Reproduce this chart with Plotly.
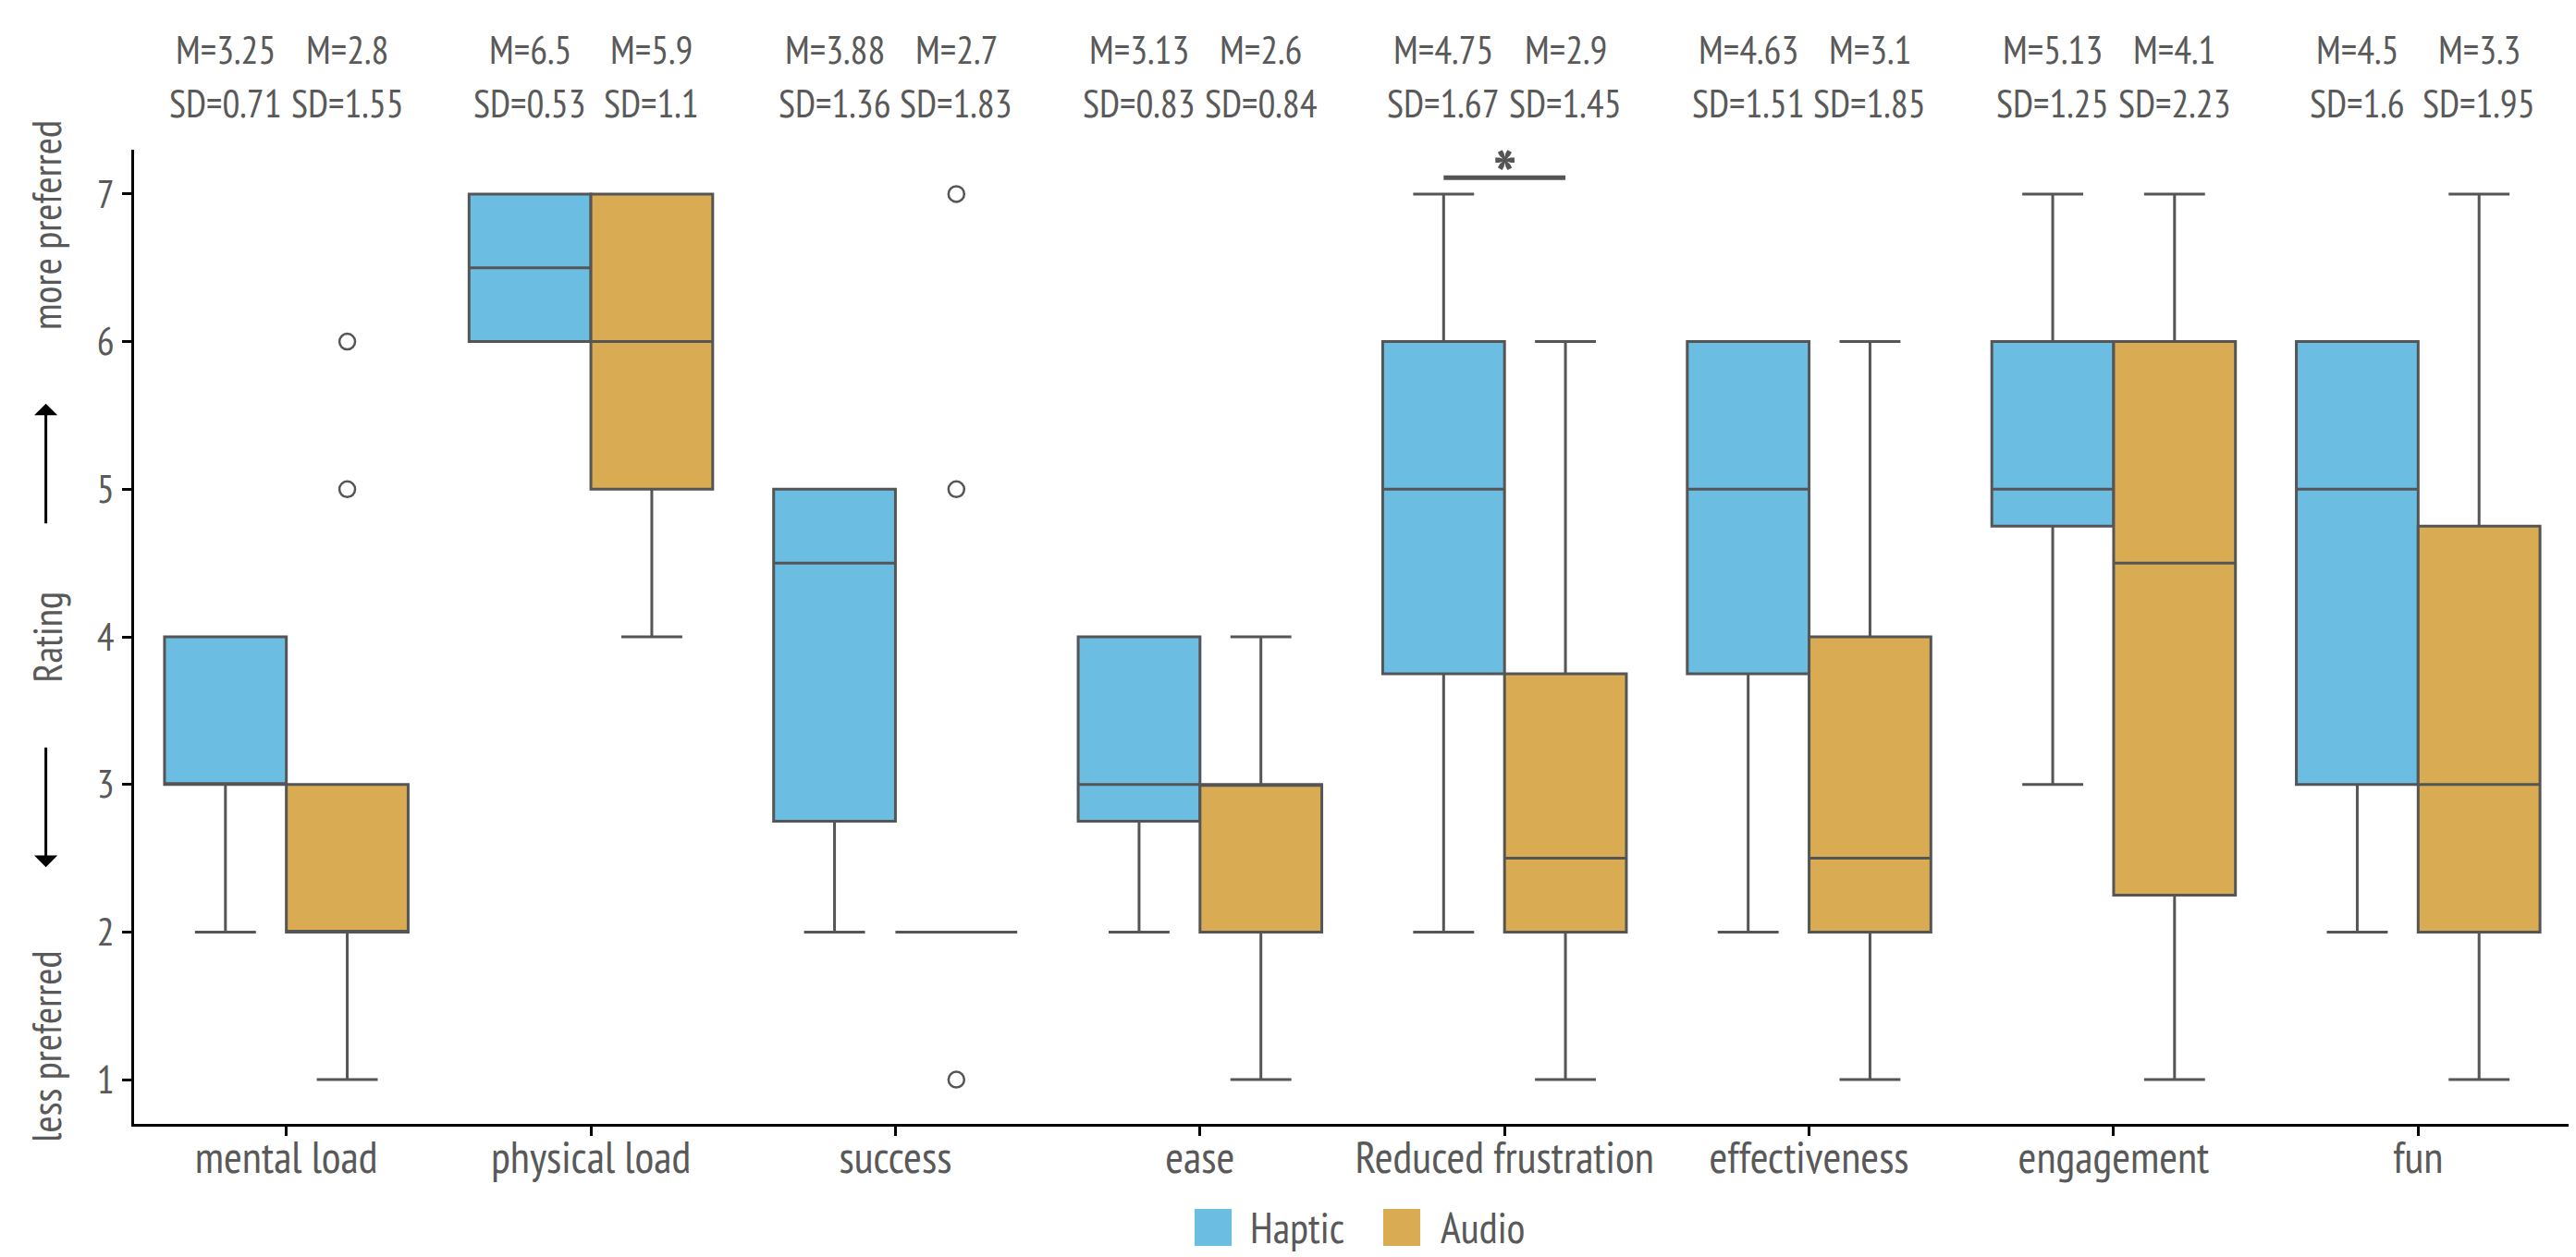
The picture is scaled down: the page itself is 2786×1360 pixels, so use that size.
import plotly.graph_objects as go

categories = ["mental load", "physical load", "success", "ease",
              "Reduced frustration", "effectiveness", "engagement", "fun"]

# Haptic box statistics
h_q1 = [3, 6, 2.75, 2.75, 3.75, 3.75, 4.75, 3]
h_med = [3, 6.5, 4.5, 3, 5, 5, 5, 5]
h_q3 = [4, 7, 5, 4, 6, 6, 6, 6]
h_lo = [2, 6, 2, 2, 2, 2, 3, 2]
h_hi = [4, 7, 5, 4, 7, 6, 7, 6]
h_out = [[], [], [], [], [], [], [], []]

# Audio box statistics
a_q1 = [2, 5, 2, 2, 2, 2, 2.25, 2]
a_med = [2, 6, 2, 3, 2.5, 2.5, 4.5, 3]
a_q3 = [3, 7, 2, 3, 3.75, 4, 6, 4.75]
a_lo = [1, 4, 2, 1, 1, 1, 1, 1]
a_hi = [3, 7, 2, 4, 6, 6, 7, 7]
a_out = [[5, 6], [], [1, 5, 7], [], [], [], [], []]

# Descriptive stats shown above the plot
h_mean = ["3.25", "6.5", "3.88", "3.13", "4.75", "4.63", "5.13", "4.5"]
h_sd = ["0.71", "0.53", "1.36", "0.83", "1.67", "1.51", "1.25", "1.6"]
a_mean = ["2.8", "5.9", "2.7", "2.6", "2.9", "3.1", "4.1", "3.3"]
a_sd = ["1.55", "1.1", "1.83", "0.84", "1.45", "1.85", "2.23", "1.95"]

significant = ["Reduced frustration"]

series = ["Haptic", "Audio"]
colors = ["#6BBDE2", "#D9AC53"]

FONT = "Liberation Sans Narrow, PT Sans Narrow, Roboto Condensed, Arial Narrow, sans-serif"
GRAY = "#595959"
LINE = "#555555"

fig = go.Figure()
stats = [(h_q1, h_med, h_q3, h_lo, h_hi, h_out), (a_q1, a_med, a_q3, a_lo, a_hi, a_out)]
for name, col, (q1, med, q3, lo, hi, out) in zip(series, colors, stats):
    pts = [list(o) if o else [None] for o in out]
    fig.add_trace(go.Box(
        name=name, x=categories, y=pts,
        q1=q1, median=med, q3=q3, lowerfence=lo, upperfence=hi,
        boxpoints="outliers", jitter=0, pointpos=0,
        fillcolor=col, line=dict(color=LINE, width=3),
        marker=dict(symbol="circle-open", size=17, color=LINE,
                    line=dict(color=LINE, width=2.5)),
        whiskerwidth=0.5, offsetgroup=name, showlegend=False,
    ))

ann = []
OFF = 0.2
for i, c in enumerate(categories):
    for k, (mn, sd) in enumerate([(h_mean[i], h_sd[i]), (a_mean[i], a_sd[i])]):
        xo = i - OFF if k == 0 else i + OFF
        ann.append(dict(x=xo, y=1.1025, xref="x", yref="paper", text=f"M={mn}",
                        showarrow=False, font=dict(size=42, color=GRAY, family=FONT),
                        xanchor="center", yanchor="middle"))
        ann.append(dict(x=xo, y=1.0475, xref="x", yref="paper", text=f"SD={sd}",
                        showarrow=False, font=dict(size=42, color=GRAY, family=FONT),
                        xanchor="center", yanchor="middle"))

shapes = []
for c in significant:
    i = categories.index(c)
    shapes.append(dict(type="line", xref="x", yref="y", x0=i - OFF, x1=i + OFF,
                       y0=7.11, y1=7.11, line=dict(color=LINE, width=5)))
    ann.append(dict(x=i, y=7.12, xref="x", yref="y", text="<b>*</b>", showarrow=False,
                    font=dict(size=78, color=LINE, family=FONT),
                    xanchor="center", yanchor="middle"))

# y-axis side labels
XL = -0.0362
ann.append(dict(x=XL, y=0.5, xref="paper", yref="paper", text="Rating", textangle=-90,
                showarrow=False, font=dict(size=44, color=GRAY, family=FONT),
                xanchor="center", yanchor="middle"))
ann.append(dict(x=XL, y=6.79, xref="paper", yref="y", text="more preferred", textangle=-90,
                showarrow=False, font=dict(size=44, color=GRAY, family=FONT),
                xanchor="center", yanchor="middle"))
ann.append(dict(x=XL, y=1.225, xref="paper", yref="y", text="less preferred", textangle=-90,
                showarrow=False, font=dict(size=44, color=GRAY, family=FONT),
                xanchor="center", yanchor="middle"))
ann.append(dict(x=XL, y=5.58, xref="paper", yref="y", text="", showarrow=True,
                ax=0, ay=131, arrowhead=1, arrowsize=1.4, arrowwidth=3, arrowcolor="black"))
ann.append(dict(x=XL, y=2.44, xref="paper", yref="y", text="", showarrow=True,
                ax=0, ay=-131, arrowhead=1, arrowsize=1.4, arrowwidth=3, arrowcolor="black"))

# custom legend
leg_y0, leg_y1, leg_ym = -0.1252, -0.0873, -0.1063
leg_x = [(0.4353, 0.4505, 0.4573), (0.5127, 0.5279, 0.5355)]
for name, col, (x0, x1, xt) in zip(series, colors, leg_x):
    shapes.append(dict(type="rect", xref="paper", yref="paper", x0=x0, x1=x1,
                       y0=leg_y0, y1=leg_y1, fillcolor=col, line=dict(width=0)))
    ann.append(dict(x=xt, y=leg_ym, xref="paper", yref="paper", text=name, showarrow=False,
                    font=dict(size=46, color=GRAY, family=FONT),
                    xanchor="left", yanchor="middle"))

fig.update_layout(
    width=2786, height=1360,
    margin=dict(l=137, r=14, t=154, b=152),
    paper_bgcolor="white", plot_bgcolor="white",
    boxmode="group", boxgap=0.2, boxgroupgap=0,
    font=dict(family=FONT, color=GRAY, size=40),
    annotations=ann, shapes=shapes, showlegend=False,
)
fig.update_xaxes(type="category", range=[-0.5, len(categories) - 0.5],
                 showline=True, linecolor="black", linewidth=3,
                 ticks="outside", ticklen=10, tickwidth=2.5, tickcolor="black",
                 ticklabelstandoff=-18,
                 tickfont=dict(size=48, color=GRAY, family=FONT),
                 showgrid=False, zeroline=False)
fig.update_yaxes(range=[0.7, 7.3], tickvals=[1, 2, 3, 4, 5, 6, 7],
                 showline=True, linecolor="black", linewidth=3,
                 ticks="outside", ticklen=10, tickwidth=2.5, tickcolor="black",
                 tickfont=dict(size=42, color=GRAY, family=FONT),
                 showgrid=False, zeroline=False)

fig.write_html("out.html")
